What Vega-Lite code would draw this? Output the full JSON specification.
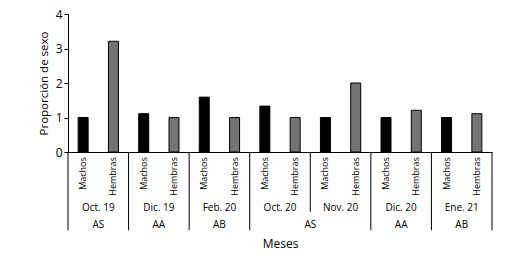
{
  "$schema": "https://vega.github.io/schema/vega-lite/v6.json",
  "width": 424,
  "height": 138,
  "autosize": {"type": "none"},
  "padding": {"left": 68, "top": 14, "right": 36, "bottom": 112},
  "config": {
    "view": {"stroke": null},
    "font": "Open Sans",
    "text": {"font": "Open Sans", "color": "#000000"},
    "axisY": {"title": "Proporción de sexo", "tickCount": 5, "tickMinStep": 1, "labelOverlap": false, "grid": false, "domainColor": "#000000", "tickColor": "#000000", "tickSize": 4, "labelPadding": 2, "labelFontSize": 12, "labelColor": "#000000", "labelFont": "Open Sans", "titleFont": "Open Sans", "titleFontSize": 11.5, "titleFontWeight": "normal", "titleColor": "#000000", "titlePadding": 6}
  },
  "datasets": {
    "bars": [
      {"month": "Oct. 19", "sex": "Machos", "value": 1.0},
      {"month": "Oct. 19", "sex": "Hembras", "value": 3.21},
      {"month": "Dic. 19", "sex": "Machos", "value": 1.11},
      {"month": "Dic. 19", "sex": "Hembras", "value": 1.0},
      {"month": "Feb. 20", "sex": "Machos", "value": 1.59},
      {"month": "Feb. 20", "sex": "Hembras", "value": 1.0},
      {"month": "Oct. 20", "sex": "Machos", "value": 1.33},
      {"month": "Oct. 20", "sex": "Hembras", "value": 1.0},
      {"month": "Nov. 20", "sex": "Machos", "value": 1.0},
      {"month": "Nov. 20", "sex": "Hembras", "value": 2.0},
      {"month": "Dic. 20", "sex": "Machos", "value": 1.0},
      {"month": "Dic. 20", "sex": "Hembras", "value": 1.21},
      {"month": "Ene. 21", "sex": "Machos", "value": 1.0},
      {"month": "Ene. 21", "sex": "Hembras", "value": 1.11}
    ],
    "seasons": [
      {"month": "Oct. 19", "season": "AS", "span": "one"},
      {"month": "Dic. 19", "season": "AA", "span": "one"},
      {"month": "Feb. 20", "season": "AB", "span": "one"},
      {"month": "Oct. 20", "season": "AS", "span": "two"},
      {"month": "Dic. 20", "season": "AA", "span": "one"},
      {"month": "Ene. 21", "season": "AB", "span": "one"}
    ],
    "dividers": [
      {"month": "Oct. 19", "kind": "full"},
      {"month": "Dic. 19", "kind": "full"},
      {"month": "Feb. 20", "kind": "full"},
      {"month": "Oct. 20", "kind": "full"},
      {"month": "Nov. 20", "kind": "short"},
      {"month": "Dic. 20", "kind": "full"},
      {"month": "Ene. 21", "kind": "full"}
    ]
  },
  "layer": [
    {
      "data": {"name": "bars"},
      "mark": {"type": "text", "angle": 270, "align": "right", "baseline": "middle", "fontSize": 9},
      "encoding": {
        "x": {"field": "month", "type": "nominal"},
        "xOffset": {"field": "sex", "type": "nominal"},
        "y": {"datum": -0.15, "type": "quantitative"},
        "text": {"field": "sex"}
      }
    },
    {
      "data": {"name": "bars"},
      "transform": [{"filter": "datum.sex === 'Machos'"}],
      "mark": {"type": "text", "align": "center", "baseline": "middle", "fontSize": 10},
      "encoding": {
        "x": {"field": "month", "type": "nominal"},
        "y": {"datum": -1.63, "type": "quantitative"},
        "text": {"field": "month"}
      }
    },
    {
      "data": {"name": "seasons"},
      "transform": [{"filter": "datum.span === 'one'"}],
      "mark": {"type": "text", "align": "center", "baseline": "middle", "fontSize": 10},
      "encoding": {
        "x": {"field": "month", "type": "nominal"},
        "y": {"datum": -2.12, "type": "quantitative"},
        "text": {"field": "season"}
      }
    },
    {
      "data": {"name": "seasons"},
      "transform": [{"filter": "datum.span === 'two'"}],
      "mark": {"type": "text", "align": "center", "baseline": "middle", "fontSize": 10},
      "encoding": {
        "x": {"field": "month", "type": "nominal", "bandPosition": 1},
        "y": {"datum": -2.12, "type": "quantitative"},
        "text": {"field": "season"}
      }
    },
    {
      "data": {"name": "dividers"},
      "transform": [{"filter": "datum.kind === 'full'"}],
      "mark": {"type": "rule", "color": "#000000", "strokeWidth": 1},
      "encoding": {
        "x": {"field": "month", "type": "nominal", "bandPosition": 0},
        "y": {"datum": 0, "type": "quantitative"},
        "y2": {"datum": -2.27}
      }
    },
    {
      "data": {"name": "dividers"},
      "transform": [{"filter": "datum.month === 'Ene. 21'"}],
      "mark": {"type": "rule", "color": "#000000", "strokeWidth": 1},
      "encoding": {
        "x": {"field": "month", "type": "nominal", "bandPosition": 1},
        "y": {"datum": 0, "type": "quantitative"},
        "y2": {"datum": -2.27}
      }
    },
    {
      "data": {"name": "dividers"},
      "transform": [{"filter": "datum.kind === 'short'"}],
      "mark": {"type": "rule", "color": "#000000", "strokeWidth": 1},
      "encoding": {
        "x": {"field": "month", "type": "nominal", "bandPosition": 0},
        "y": {"datum": 0, "type": "quantitative"},
        "y2": {"datum": -1.73}
      }
    },
    {
      "data": {"name": "bars"},
      "mark": {"type": "bar", "stroke": "#000000", "strokeWidth": 1},
      "encoding": {
        "x": {
          "field": "month", "type": "nominal",
          "scale": {"domain": ["Oct. 19", "Dic. 19", "Feb. 20", "Oct. 20", "Nov. 20", "Dic. 20", "Ene. 21"], "paddingInner": 0, "paddingOuter": 0},
          "axis": {"title": "Meses", "labels": false, "ticks": false, "domain": true, "domainColor": "#000000", "titleFontWeight": "normal", "titleFontSize": 12, "titlePadding": 86, "titleColor": "#000000", "titleFont": "Open Sans"}
        },
        "xOffset": {
          "field": "sex", "type": "nominal",
          "scale": {"domain": ["Machos", "Hembras"], "paddingInner": 0.67, "paddingOuter": 0.335}
        },
        "y": {
          "field": "value", "type": "quantitative",
          "scale": {"domain": [0, 4], "nice": false, "zero": true},
          "axis": {"title": "Proporción de sexo", "values": [0, 1, 2, 3, 4], "tickCount": 5}
        },
        "color": {
          "field": "sex", "type": "nominal",
          "scale": {"domain": ["Machos", "Hembras"], "range": ["#000000", "#747474"]},
          "legend": null
        }
      }
    }
  ]
}
